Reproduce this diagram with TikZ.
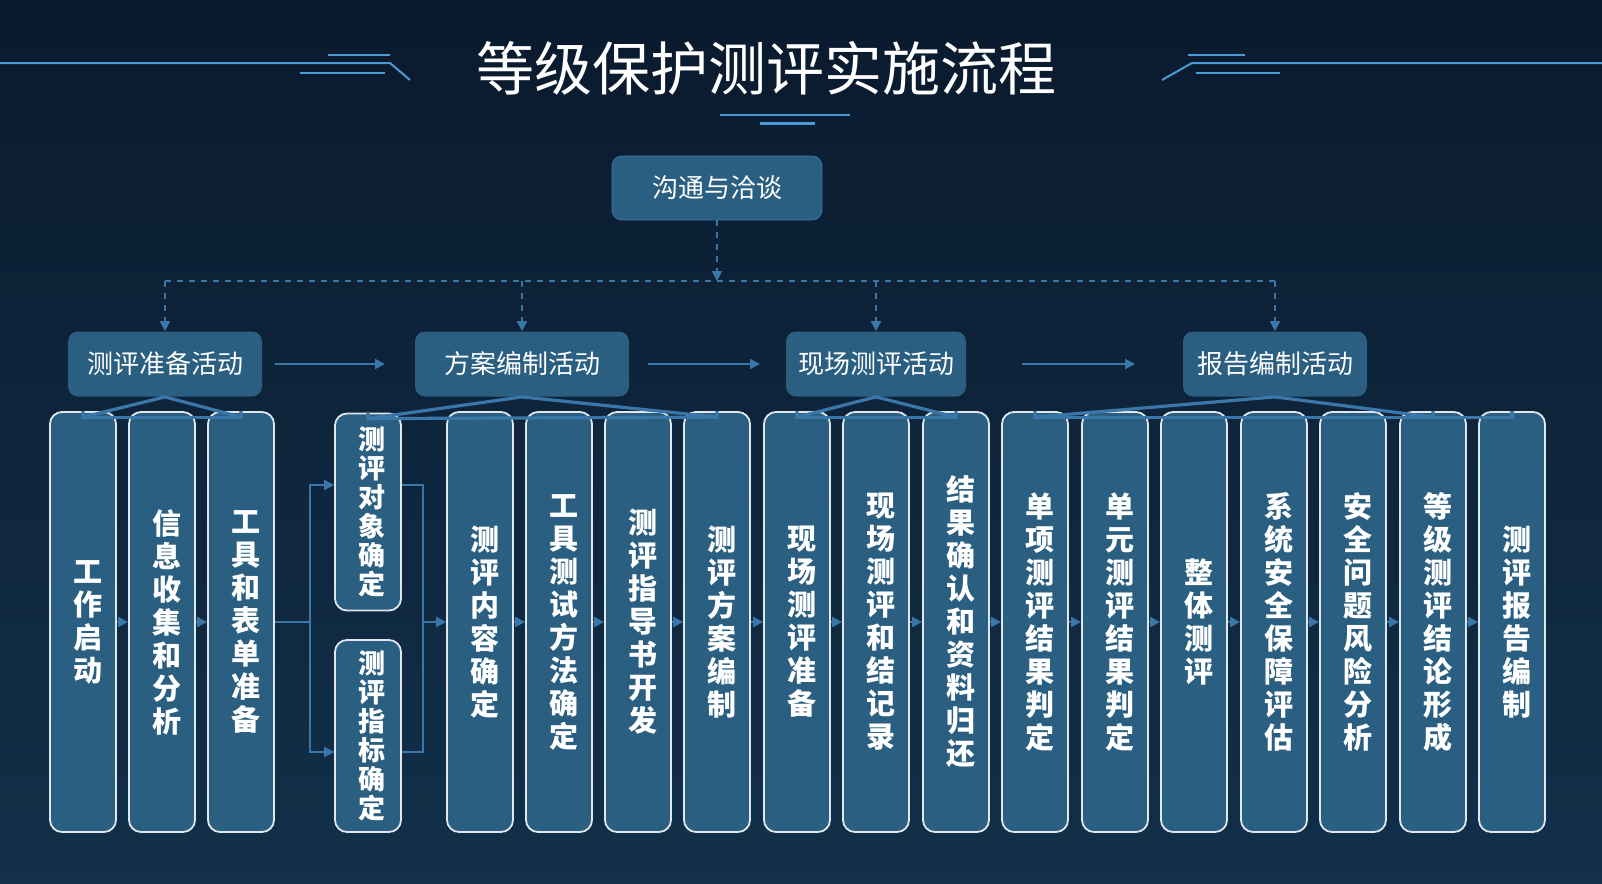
\documentclass[tikz,border=0pt]{standalone}
\usepackage{fontspec}
\setmainfont{Noto Sans CJK SC}
\usetikzlibrary{arrows.meta}
\XeTeXlinebreaklocale "zh"
\XeTeXlinebreakskip=0pt plus 1pt
\definecolor{bgA}{HTML}{0A1A2E}
\definecolor{bgB}{HTML}{12304A}
\definecolor{boxc}{HTML}{2A5F82}
\definecolor{linec}{HTML}{3A77A8}
\definecolor{deco}{HTML}{4A9AD8}
\tikzset{
 act/.style={fill=boxc,rounded corners=5pt,minimum width=#1,minimum height=32.5pt,text=white,font=\fontsize{13}{15}\selectfont,inner sep=0pt},
 col/.style={fill=boxc,draw=white!85!boxc,line width=0.9pt,rounded corners=6pt,minimum width=33pt,text=white,font=\bfseries\fontsize{14.5}{16.5}\selectfont,text width=1em,align=center,inner sep=0pt},
 smallcol/.style={col,font=\bfseries\fontsize{13.5}{14.5}\selectfont},
 arr/.style={draw=linec,line width=1pt,-{Triangle[length=5pt,width=5pt]}},
 dashln/.style={draw=linec,line width=1pt,dashed},
 fan/.style={draw=linec,line width=1.6pt},
}
\begin{document}
\begin{tikzpicture}[x=0.5pt,y=-0.5pt]
\useasboundingbox (0,0) rectangle (1602,884);
\begin{scope}
\clip (0,0) rectangle (1602,884);
\shade[top color=bgA,bottom color=bgB] (-5,-5) rectangle (1607,889);
% title decorations
\draw[deco,line width=1pt] (0,63)--(390,63)--(410,80);
\draw[deco,line width=1pt] (328,55)--(390,55);
\draw[deco,line width=1pt] (300,73)--(385,73);
\draw[deco,line width=1pt] (1602,63)--(1192,63)--(1162,80);
\draw[deco,line width=1pt] (1188,55)--(1245,55);
\draw[deco,line width=1pt] (1196,73)--(1280,73);
\draw[deco,line width=1pt] (720,115)--(850,115);
\draw[deco,line width=1.5pt] (760,123)--(815,123);
\end{scope}
\node[text=white,font=\fontsize{29}{32}\selectfont] (title) at (766,68) {等级保护测评实施流程};
% top box
\node[fill=boxc,draw=linec,rounded corners=5pt,minimum width=105pt,minimum height=32pt,text=white,font=\fontsize{13}{15}\selectfont] (top) at (717,188) {沟通与洽谈};
% activities
\node[act=97pt] (a1) at (165,364) {测评准备活动};
\node[act=107pt] (a2) at (522,364) {方案编制活动};
\node[act=90pt] (a3) at (876,364) {现场测评活动};
\node[act=92pt] (a4) at (1275,364) {报告编制活动};
\coordinate (h) at (717,281);
\draw[dashln,-{Triangle[length=5pt,width=5pt]}] (top.south) -- (h);
\draw[dashln] (a1.north |- h) -- (a4.north |- h);
\foreach \a in {a1,a2,a3,a4}{\draw[dashln,-{Triangle[length=5pt,width=5pt]}] (\a.north |- h) -- (\a.north);}
\draw[arr] (275,364) -- (385,364);
\draw[arr] (648,364) -- (760,364);
\draw[arr] (1022,364) -- (1135,364);
% columns
\newcommand\colbox[3]{\node[col,minimum height=210pt] (#1) at (#2,622) {#3};}
\colbox{c1}{83}{工作启动}
\colbox{c2}{162}{信息收集和分析}
\colbox{c3}{241}{工具和表单准备}
\node[smallcol,minimum height=98.5pt] (s1) at (368,512) {测评对象确定};
\node[smallcol,minimum height=96pt] (s2) at (368,736) {测评指标确定};
\colbox{c4}{480}{测评内容确定}
\colbox{c5}{559}{工具测试方法确定}
\colbox{c6}{638}{测评指导书开发}
\colbox{c7}{717}{测评方案编制}
\colbox{c8}{797}{现场测评准备}
\colbox{c9}{876}{现场测评和结记录}
\colbox{c10}{956}{结果确认和资料归还}
\colbox{c11}{1035}{单项测评结果判定}
\colbox{c12}{1115}{单元测评结果判定}
\colbox{c13}{1194}{整体测评}
\colbox{c14}{1274}{系统安全保障评估}
\colbox{c15}{1353}{安全问题风险分析}
\colbox{c16}{1433}{等级测评结论形成}
\colbox{c17}{1512}{测评报告编制}
% fans
\newcommand\fanout[3]{%
 \draw[fan] (#1.south) -- ([yshift=-3pt]#2.north) -- ++(0,3pt);
 \draw[fan] (#1.south) -- ([yshift=-3pt]#3.north) -- ++(0,3pt);
 \draw[fan] ([yshift=-3pt]#2.north) -- ([yshift=-3pt]#3.north);}
\fanout{a1}{c1}{c3}
\fanout{a2}{s1}{c7}
\fanout{a3}{c8}{c10}
\fanout{a4}{c11}{c16}
\draw[fan] ([yshift=-3pt]c16.north) -- ([yshift=-3pt]c17.north) -- (c17.north);
% sequence arrows
\draw[arr] (c1) -- (c2);
\draw[arr] (c2) -- (c3);
\coordinate (j1) at (310,622);
\coordinate (j2) at (423,622);
\draw[draw=linec,line width=1pt] (c3.east |- j1) -- (j1);
\draw[arr] (j1) |- (s1.west |- 0,485);
\draw[arr] (j1) |- (s2.west |- 0,752);
\draw[draw=linec,line width=1pt] (s1.east |- 0,485) -| (j2);
\draw[draw=linec,line width=1pt] (s2.east |- 0,752) -| (j2);
\draw[arr] (j2) -- (c4.west |- j2);
\foreach \p/\q in {c4/c5,c5/c6,c6/c7,c7/c8,c8/c9,c9/c10,c10/c11,c11/c12,c12/c13,c13/c14,c14/c15,c15/c16,c16/c17}{\draw[arr] (\p) -- (\q);}
\end{tikzpicture}
\end{document}
